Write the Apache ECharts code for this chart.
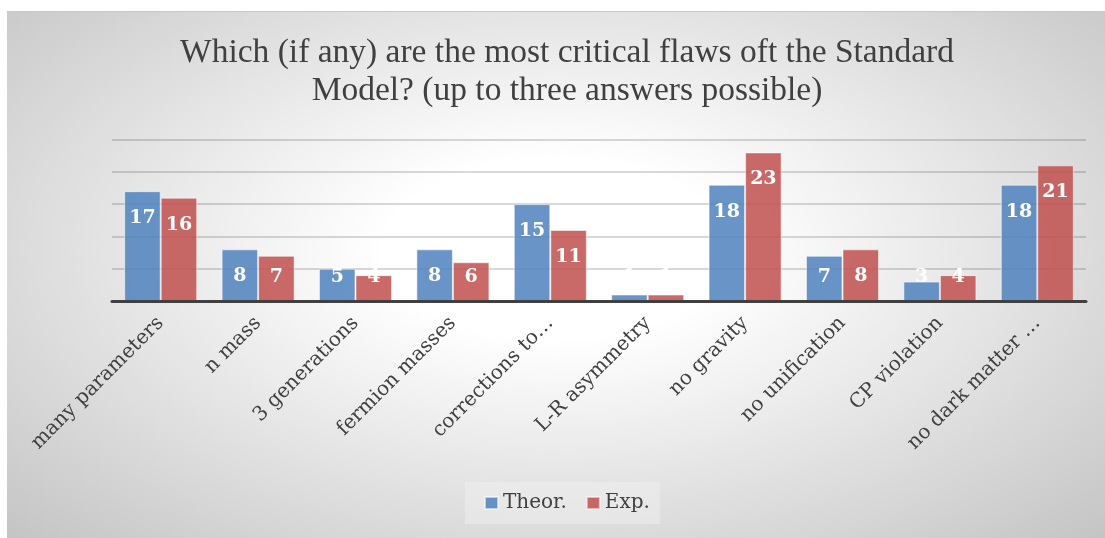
<!DOCTYPE html>
<html>
<head>
<meta charset="utf-8">
<script src="https://cdn.jsdelivr.net/npm/echarts@6/dist/echarts.min.js"></script>
<style>
html,body{margin:0;padding:0;background:#fff;width:1105px;height:538px;overflow:hidden;}
#bg{position:absolute;left:7px;top:11px;width:1098px;height:527px;border-top:1px solid #c8c8c8;
background:radial-gradient(ellipse farthest-corner at 50% 45%, #ffffff 0%, #ffffff 22%, #c4c4c4 100%);}
#chart{position:absolute;left:0;top:0;width:1105px;height:538px;}
</style>
</head>
<body>
<div id="bg"></div>
<div id="chart"></div>
<script>
const titleText = "Which (if any) are the most critical flaws oft the Standard\nModel? (up to three answers possible)";
const categories = ["many parameters","n mass","3 generations","fermion masses","corrections to\u2026","L-R asymmetry","no gravity","no unification","CP violation","no dark matter \u2026"];
const theorValues = [17, 8, 5, 8, 15, 1, 18, 7, 3, 18];
const expValues = [16, 7, 4, 6, 11, 1, 23, 8, 4, 21];
const seriesNames = ["Theor.", "Exp."];
const yTicks = [0, 5, 10, 15, 20, 25];

const labelBase = {show:true, color:'#ffffff', fontFamily:'DejaVu Serif', fontWeight:'bold', fontSize:19, lineHeight:20};
function toItems(vals){
  return vals.map(v => ({
    value: v,
    label: v >= 8 ? {position:'insideTop', distance:17} : {position:'insideBottom', distance:14}
  }));
}

const chart = echarts.init(document.getElementById('chart'), null, {renderer:'canvas'});
chart.setOption({
  backgroundColor: 'transparent',
  animation: false,
  title: {
    text: titleText,
    left: 562, top: 29, textAlign: 'center',
    textStyle: {fontFamily:'Liberation Serif', fontWeight:'normal', fontSize:33.5, lineHeight:38, color:'#404040'}
  },
  legend: {
    left: 465, top: 482,
    padding: [11, 10, 11, 19],
    backgroundColor: 'rgba(240,240,240,0.5)',
    itemWidth: 13, itemHeight: 12, itemGap: 19,
    icon: 'rect',
    textStyle: {fontFamily:'DejaVu Serif', fontSize:20, color:'#404040'},
    data: seriesNames
  },
  grid: {left:112, right:19, top:139.5, bottom:237, containLabel:false},
  xAxis: {
    type:'category', data: categories, z: 5,
    axisLine: {lineStyle:{color:'#404040', width:3}},
    axisTick: {show:false},
    axisLabel: {rotate:45, margin:19, interval:0, fontFamily:'DejaVu Serif', fontSize:20, color:'#404040'}
  },
  yAxis: {
    type:'value', min: yTicks[0], max: yTicks[yTicks.length-1], interval: 5,
    axisLine:{show:false}, axisTick:{show:false}, axisLabel:{show:false},
    splitLine: {lineStyle:{color:'rgba(0,0,0,0.15)', width:2}}
  },
  series: [
    {name: seriesNames[0], type:'bar', data: toItems(theorValues), barGap:'0%', barCategoryGap:'25%',
     itemStyle:{color:'rgba(79,129,189,0.85)', borderColor:'rgba(255,255,255,0.55)', borderWidth:1},
     label: labelBase},
    {name: seriesNames[1], type:'bar', data: toItems(expValues), barGap:'0%', barCategoryGap:'25%',
     itemStyle:{color:'rgba(192,80,77,0.85)', borderColor:'rgba(255,255,255,0.55)', borderWidth:1},
     label: labelBase}
  ]
});
</script>
</body>
</html>
